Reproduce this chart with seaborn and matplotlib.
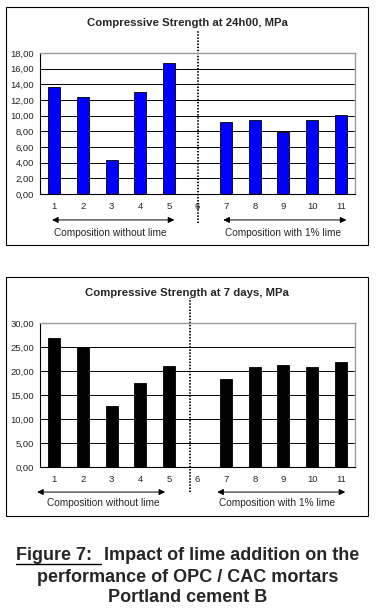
import matplotlib
matplotlib.use("Agg")
import matplotlib.pyplot as plt
import seaborn as sns
import pandas as pd
import numpy as np
from matplotlib.patches import Rectangle
from matplotlib.lines import Line2D

sns.set_style("white")
plt.rcParams['font.family'] = ['Liberation Sans', 'DejaVu Sans']

# data
compositions = ['1', '2', '3', '4', '5', '6', '7', '8', '9', '10', '11']
strength_24h = [13.7, 12.4, 4.3, 13.0, 16.7, np.nan, 9.2, 9.4, 7.9, 9.4, 10.1]
strength_7d = [26.8, 25.0, 12.7, 17.5, 21.1, np.nan, 18.4, 20.8, 21.2, 20.8, 21.9]
yticks_24h = [0, 2, 4, 6, 8, 10, 12, 14, 16, 18]
yticks_7d = [0, 5, 10, 15, 20, 25, 30]
group_labels = ['Composition without lime', 'Composition with 1% lime']

W, H = 376, 615
fig = plt.figure(figsize=(W / 100, H / 100), dpi=100)
fig.patch.set_facecolor('white')


def px(x0, y0, w, h):
    return [x0 / W, 1 - (y0 + h) / H, w / W, h / H]


def draw_panel(ax, values, yticks, color, title, title_y, box, dot, arrows, texts, arr_y, txt_y):
    df = pd.DataFrame({'comp': compositions, 'val': values})
    sns.barplot(data=df, x='comp', y='val', order=compositions, color=color,
                saturation=1, width=0.42, edgecolor='black', linewidth=0.6, ax=ax)
    ax.set_xlim(-0.5, len(compositions) - 0.5)
    ax.set_ylim(yticks[0], yticks[-1])
    ax.set_yticks(yticks)
    ax.set_yticklabels([f"{v:.2f}".replace('.', ',') for v in yticks], fontsize=6.8)
    ax.set_xticks(range(len(compositions)))
    ax.set_xticklabels(compositions, fontsize=6.8)
    ax.set_xticks(np.arange(-0.5, len(compositions)), minor=True)
    ax.tick_params(axis='x', which='major', length=0, pad=6)
    ax.tick_params(axis='x', which='minor', length=3, width=0.6, color='black')
    ax.tick_params(axis='y', length=3, width=0.6, color='black', pad=1.5, direction='out')
    ax.set_xlabel('')
    ax.set_ylabel('')
    ax.yaxis.grid(True, color='black', linewidth=0.7)
    ax.set_axisbelow(True)
    for s in ['left', 'bottom']:
        ax.spines[s].set_color('black')
        ax.spines[s].set_linewidth(0.8)
    for s in ['top', 'right']:
        ax.spines[s].set_color('#999999')
        ax.spines[s].set_linewidth(1.0)

    # dotted separator
    ax.add_line(Line2D([dot[0], dot[0]], [dot[1], dot[2]], transform=ax.get_xaxis_transform(),
                       color='black', linestyle=(0, (0.8, 0.9)), linewidth=1.3, clip_on=False))
    # arrows and group labels
    for (x0, x1), xt, lab in zip(arrows, texts, group_labels):
        ax.annotate('', xy=(x1, arr_y), xytext=(x0, arr_y),
                    xycoords=('data', 'axes fraction'), textcoords=('data', 'axes fraction'),
                    arrowprops=dict(arrowstyle='<|-|>', color='black', lw=0.7,
                                    mutation_scale=9, shrinkA=0, shrinkB=0),
                    annotation_clip=False)
        ax.text(xt, txt_y, lab, transform=ax.get_xaxis_transform(), ha='center', va='center',
                fontsize=7.3)

    fig.text(187 / W, 1 - title_y / H, title, ha='center', va='center', fontsize=8.2,
             fontweight='bold')
    bx, by, bw, bh = box
    fig.add_artist(Rectangle((bx / W, 1 - (by + bh) / H), bw / W, bh / H,
                             transform=fig.transFigure, fill=False, edgecolor='black', lw=0.8))


ax1 = fig.add_axes(px(40, 53, 315, 141))
draw_panel(ax1, strength_24h, yticks_24h, '#0000ff', 'Compressive Strength at 24h00, MPa', 23,
           (6, 7, 362, 238), (5.0, -0.206, 1.163),
           [(-0.08, 4.19), (5.9, 10.2)], [1.95, 8.0], -0.184, -0.277)

ax2 = fig.add_axes(px(40, 323, 315, 144))
draw_panel(ax2, strength_7d, yticks_7d, 'black', 'Compressive Strength at 7 days, MPa', 293,
           (6, 277, 362, 239), (4.74, -0.174, 1.174),
           [(-0.6, 3.87), (5.69, 10.16)], [1.7, 7.79], -0.174, -0.25)

# caption
cap_size = 13
fig.canvas.draw()
r = fig.canvas.get_renderer()
fig_lbl = fig.text(0, 1 - 555 / H, 'Figure 7:', ha='left', va='center', fontsize=cap_size,
                   fontweight='bold')
cap1 = fig.text(0, 1 - 555 / H, 'Impact of lime addition on the', ha='left', va='center',
                fontsize=cap_size, fontweight='bold')
bb0 = fig_lbl.get_window_extent(r)
bb1 = cap1.get_window_extent(r)
gap = 12
total = bb0.width + gap + bb1.width
start = (W - total) / 2
fig_lbl.set_x(start / W)
cap1.set_x((start + bb0.width + gap) / W)
fig.add_artist(Line2D([start / W, (start + bb0.width + gap - 3) / W], [1 - 564 / H, 1 - 564 / H],
                      transform=fig.transFigure, color='black', lw=1.0))
fig.text(0.5, 1 - 577 / H, 'performance of OPC / CAC mortars', ha='center', va='center',
         fontsize=cap_size, fontweight='bold')
fig.text(0.5, 1 - 598 / H, 'Portland cement B', ha='center', va='center', fontsize=cap_size,
         fontweight='bold')

fig.savefig('out.png', dpi=100, facecolor='white')
